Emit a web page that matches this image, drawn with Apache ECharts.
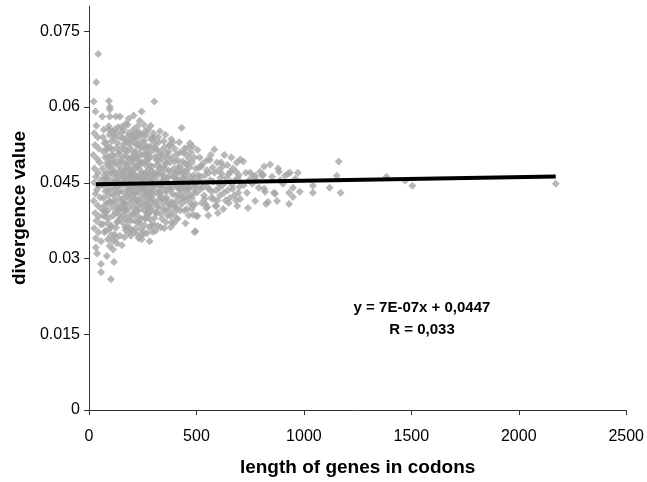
<!DOCTYPE html>
<html>
<head>
<meta charset="utf-8">
<script src="https://cdn.jsdelivr.net/npm/echarts@6/dist/echarts.min.js"></script>
<style>
html,body{margin:0;padding:0;background:#fff;}
#chart{width:647px;height:482px;}
</style>
</head>
<body>
<div id="chart"></div>
<script>
// [length of gene in codons, divergence value]
var genes = [
[22,0.0611],[34,0.0649],[43,0.0705],[30,0.0591],[34,0.0563],[25,0.0548],[40,0.0540],[28,0.0525],[45,0.0518],[20,0.0505],
[38,0.0497],[50,0.0490],[26,0.0478],[42,0.0470],[32,0.0462],[55,0.0455],[24,0.0450],[48,0.0443],[36,0.0436],[30,0.0428],
[52,0.0421],[22,0.0414],[40,0.0405],[58,0.0398],[28,0.0390],[46,0.0383],[34,0.0375],[54,0.0368],[24,0.0360],[44,0.0352],
[32,0.0340],[56,0.0334],[32,0.0322],[56,0.0289],[56,0.0273],[38,0.0310],
[62,0.0581],[69,0.0555],[93,0.0612],[97,0.0600],[97,0.0595],[97,0.0581],[125,0.0581],[144,0.0581],[93,0.0555],[153,0.0561],
[171,0.0567],[185,0.0577],[208,0.0583],[245,0.0591],[236,0.0573],[304,0.0611],[287,0.0563],[264,0.0553],[431,0.0559],
[83,0.0305],[116,0.0293],[102,0.0259],[153,0.0326],[231,0.0340],[282,0.0334],[208,0.0352],[171,0.0356],[380,0.0362],[449,0.0370],
[412,0.0378],[495,0.0354],[500,0.0384],[546,0.0400],[301,0.0368],[333,0.0362],
[65,0.0540],[72,0.0528],[80,0.0515],[88,0.0502],[95,0.0490],[105,0.0478],[112,0.0466],[120,0.0454],[128,0.0442],[135,0.0430],
[142,0.0418],[148,0.0405],[70,0.0395],[78,0.0382],[86,0.0370],[94,0.0358],[102,0.0346],[110,0.0335],[118,0.0348],[126,0.0361],
[134,0.0374],[140,0.0387],[66,0.0445],[74,0.0458],[82,0.0470],[90,0.0483],[98,0.0520],[106,0.0532],[114,0.0545],[122,0.0556],
[130,0.0520],[138,0.0508],[146,0.0496],[68,0.0420],[76,0.0433],[84,0.0410],[92,0.0425],[100,0.0438],[108,0.0402],[116,0.0415],
[124,0.0392],[132,0.0400],[140,0.0452],[148,0.0465],[64,0.0368],[72,0.0352],[88,0.0338],[96,0.0325],[112,0.0318],[130,0.0330],
[144,0.0345],[85,0.0448],[115,0.0488],[125,0.0470],[135,0.0462],[75,0.0500],[145,0.0540],[105,0.0505],[95,0.0412],[120,0.0425],
[80,0.0460],
[63,0.0478],[67,0.0512],[71,0.0465],[73,0.0405],[77,0.0448],[79,0.0530],[81,0.0392],[83,0.0488],[87,0.0435],[89,0.0520],
[91,0.0458],[94,0.0380],[96,0.0545],[99,0.0470],[101,0.0412],[103,0.0495],[104,0.0365],[107,0.0450],[109,0.0515],[111,0.0428],
[113,0.0385],[117,0.0472],[119,0.0502],[121,0.0438],[123,0.0410],[127,0.0490],[129,0.0455],[131,0.0372],[133,0.0528],[136,0.0445],
[137,0.0395],[139,0.0482],[141,0.0512],[143,0.0432],[147,0.0380],[149,0.0475],[66,0.0385],[86,0.0395],[118,0.0538],[128,0.0548],
[108,0.0552],[92,0.0562],[136,0.0560],[78,0.0355],[102,0.0362],[124,0.0340],
[152,0.0550],[158,0.0538],[163,0.0526],[169,0.0514],[174,0.0502],[180,0.0490],[186,0.0478],[191,0.0466],[197,0.0454],[203,0.0442],
[208,0.0430],[214,0.0418],[219,0.0406],[225,0.0394],[231,0.0382],[236,0.0370],[242,0.0358],[248,0.0346],
[155,0.0372],[160,0.0385],[166,0.0398],[171,0.0410],[177,0.0423],[183,0.0436],[188,0.0449],[194,0.0461],[199,0.0474],[205,0.0487],
[211,0.0500],[216,0.0512],[222,0.0525],[228,0.0538],[233,0.0550],
[252,0.0545],[258,0.0533],[264,0.0521],[270,0.0509],[276,0.0497],[282,0.0485],[288,0.0473],[294,0.0461],[298,0.0449],[255,0.0437],
[261,0.0425],[267,0.0413],[273,0.0401],[279,0.0389],[285,0.0377],[291,0.0365],[297,0.0353],
[253,0.0352],[259,0.0366],[265,0.0379],[271,0.0392],[277,0.0405],[283,0.0418],[289,0.0431],[295,0.0444],[256,0.0457],[262,0.0470],
[268,0.0483],[274,0.0496],[280,0.0509],[286,0.0522],[292,0.0535],[299,0.0548],
[157,0.0460],[163,0.0448],[168,0.0473],[175,0.0455],[181,0.0441],[187,0.0430],[193,0.0418],[198,0.0500],[204,0.0512],[210,0.0468],
[215,0.0455],[221,0.0440],[226,0.0462],[232,0.0478],[238,0.0490],[243,0.0452],[249,0.0438],[154,0.0418],[161,0.0406],[167,0.0395],
[173,0.0380],[178,0.0364],[184,0.0350],[190,0.0360],[196,0.0375],[202,0.0388],[207,0.0400],[213,0.0375],[218,0.0360],[224,0.0348],
[230,0.0415],[235,0.0428],[241,0.0440],[246,0.0505],[151,0.0490],[159,0.0502],[165,0.0476],[176,0.0530],[182,0.0542],[189,0.0520],
[195,0.0535],[200,0.0545],[206,0.0555],[212,0.0540],[217,0.0528],[223,0.0482],[229,0.0494],[234,0.0508],[240,0.0520],[247,0.0470],
[262,0.0445],[278,0.0460],[290,0.0450],[266,0.0465],[284,0.0438],[272,0.0428],[257,0.0395],[287,0.0400],[296,0.0410],[260,0.0505],
[275,0.0555],
[151,0.0445],[153,0.0398],[156,0.0520],[158,0.0470],[160,0.0432],[162,0.0555],[164,0.0410],[166,0.0488],[168,0.0362],[170,0.0458],
[172,0.0535],[174,0.0425],[176,0.0395],[178,0.0482],[179,0.0512],[181,0.0375],[183,0.0465],[185,0.0548],[187,0.0402],[189,0.0445],
[191,0.0498],[192,0.0385],[194,0.0528],[196,0.0438],[198,0.0412],[200,0.0470],[201,0.0356],[203,0.0495],[205,0.0425],[207,0.0540],
[209,0.0448],[210,0.0388],[212,0.0505],[214,0.0478],[216,0.0430],[218,0.0395],[220,0.0550],[221,0.0462],[223,0.0415],[225,0.0500],
[227,0.0372],[229,0.0445],[231,0.0525],[232,0.0435],[234,0.0398],[236,0.0485],[238,0.0458],[239,0.0545],[241,0.0408],[243,0.0378],
[245,0.0468],[247,0.0530],[249,0.0420],[251,0.0490],[253,0.0458],[254,0.0405],[256,0.0518],[258,0.0442],[260,0.0380],[262,0.0492],
[264,0.0430],[266,0.0545],[268,0.0408],[269,0.0468],[271,0.0385],[273,0.0522],[275,0.0448],[277,0.0432],[279,0.0478],[281,0.0362],
[283,0.0502],[285,0.0455],[287,0.0420],[289,0.0538],[291,0.0395],[293,0.0482],[295,0.0465],[297,0.0425],[299,0.0515],[165,0.0342],
[195,0.0345],[245,0.0338],[270,0.0350],[180,0.0565],[225,0.0562],[255,0.0565],
[302,0.0540],[308,0.0528],[314,0.0516],[320,0.0504],[326,0.0492],[332,0.0480],[338,0.0468],[344,0.0456],[350,0.0444],[356,0.0432],
[362,0.0420],[368,0.0408],[374,0.0396],[380,0.0384],[386,0.0372],
[305,0.0380],[311,0.0392],[317,0.0404],[323,0.0416],[329,0.0428],[335,0.0440],[341,0.0452],[347,0.0464],[353,0.0476],[359,0.0488],
[365,0.0500],[371,0.0512],[377,0.0524],[383,0.0536],
[390,0.0530],[398,0.0518],[406,0.0506],[414,0.0494],[422,0.0482],[430,0.0470],[438,0.0458],[446,0.0446],[454,0.0434],[462,0.0422],
[470,0.0410],[478,0.0398],[486,0.0386],
[394,0.0390],[402,0.0402],[410,0.0414],[418,0.0426],[426,0.0438],[434,0.0450],[442,0.0462],[450,0.0474],[458,0.0486],[466,0.0498],
[474,0.0510],[482,0.0522],[490,0.0500],
[310,0.0455],[318,0.0470],[327,0.0445],[336,0.0420],[345,0.0410],[354,0.0395],[363,0.0460],[372,0.0448],[381,0.0436],[392,0.0462],
[401,0.0448],[412,0.0440],[420,0.0455],[428,0.0420],[440,0.0430],[448,0.0415],[460,0.0450],[468,0.0440],[476,0.0460],[488,0.0430],
[496,0.0445],[306,0.0500],[315,0.0485],[324,0.0530],[333,0.0512],[342,0.0498],[351,0.0520],[360,0.0508],[369,0.0475],[378,0.0490],
[396,0.0478],[404,0.0470],[416,0.0480],[436,0.0492],[452,0.0505],[320,0.0365],[340,0.0378],[358,0.0372],[375,0.0405],[388,0.0412],
[408,0.0380],[424,0.0395],[444,0.0395],[464,0.0385],[480,0.0420],[494,0.0408],[330,0.0552],[355,0.0545],[445,0.0518],[470,0.0528],
[301,0.0435],[303,0.0470],[307,0.0412],[309,0.0520],[312,0.0445],[314,0.0390],[316,0.0495],[319,0.0430],[321,0.0465],[322,0.0540],
[325,0.0402],[328,0.0478],[331,0.0432],[334,0.0388],[337,0.0505],[339,0.0448],[343,0.0420],[346,0.0482],[348,0.0532],[349,0.0398],
[352,0.0455],[357,0.0418],[361,0.0490],[364,0.0435],[366,0.0385],[370,0.0462],[373,0.0525],[376,0.0440],[379,0.0410],[382,0.0472],
[385,0.0500],[387,0.0428],[391,0.0445],[393,0.0405],[397,0.0460],[400,0.0492],[403,0.0425],[407,0.0458],[411,0.0398],[415,0.0470],
[419,0.0438],[423,0.0510],[427,0.0452],[431,0.0408],[435,0.0475],[439,0.0442],[443,0.0420],[447,0.0488],[451,0.0455],[455,0.0398],
[459,0.0468],[463,0.0438],[467,0.0480],[471,0.0425],[475,0.0452],[479,0.0490],[483,0.0405],[487,0.0465],[492,0.0440],[497,0.0478],
[310,0.0355],[350,0.0360],[395,0.0370],[420,0.0530],[440,0.0510],[460,0.0520],[485,0.0455],
[505,0.0515],[512,0.0480],[520,0.0462],[528,0.0440],[535,0.0425],[542,0.0408],[550,0.0495],[558,0.0470],[565,0.0455],[572,0.0432],
[580,0.0418],[588,0.0404],[596,0.0490],[604,0.0475],[612,0.0460],[620,0.0445],[628,0.0430],[636,0.0415],[644,0.0485],[652,0.0468],
[660,0.0452],[668,0.0438],[676,0.0425],[684,0.0472],[692,0.0458],[700,0.0442],[583,0.0516],[662,0.0500],[704,0.0496],[718,0.0492],
[551,0.0402],[593,0.0404],[505,0.0384],[491,0.0352],[625,0.0398],[690,0.0404],[515,0.0500],[530,0.0488],[545,0.0450],[560,0.0437],
[575,0.0480],[600,0.0450],[615,0.0490],[640,0.0460],[655,0.0420],[670,0.0478],[695,0.0430],[525,0.0410],[610,0.0425],[505,0.0455],
[540,0.0465],
[502,0.0430],[508,0.0465],[518,0.0438],[522,0.0482],[532,0.0450],[538,0.0418],[548,0.0475],[553,0.0440],[562,0.0495],[568,0.0420],
[578,0.0452],[585,0.0470],[592,0.0435],[598,0.0415],[606,0.0440],[618,0.0468],[622,0.0482],[633,0.0450],[646,0.0435],[658,0.0472],
[665,0.0445],[680,0.0455],[688,0.0490],[698,0.0465],[566,0.0505],[630,0.0505],[555,0.0385],[600,0.0390],[650,0.0410],[685,0.0415],
[704,0.0418],[730,0.0470],[745,0.0455],[750,0.0470],[764,0.0462],[773,0.0464],[773,0.0414],[790,0.0440],[796,0.0472],[806,0.0464],
[810,0.0466],[815,0.0482],[815,0.0438],[819,0.0432],[824,0.0408],[833,0.0412],[843,0.0486],[852,0.0462],[861,0.0430],[866,0.0428],
[875,0.0414],[880,0.0478],[884,0.0472],[903,0.0448],[912,0.0464],[926,0.0468],[931,0.0430],[931,0.0408],[935,0.0470],[949,0.0440],
[949,0.0422],[972,0.0470],[981,0.0432],[760,0.0448],[735,0.0430],[780,0.0455],[720,0.0445],[740,0.0400],[890,0.0455],[960,0.0458],
[1042,0.0444],[1042,0.0430],[1120,0.0440],[1162,0.0492],[1153,0.0464],[1171,0.0430],[1384,0.0462],[1472,0.0454],[1505,0.0444],[2172,0.0448]
];

// linear trend line endpoints (y = 7E-07x + 0,0447)
var trendLine = [[32,0.04472],[2172,0.04622]];

var xTicks = [0,500,1000,1500,2000,2500];
var yTicks = [0,0.015,0.03,0.045,0.06,0.075];
var equationText = 'y = 7E-07x + 0,0447';
var rText = 'R = 0,033';

var chart = echarts.init(document.getElementById('chart'), null, {renderer:'canvas'});
var FONT = 'Liberation Sans, Arial, sans-serif';
var axisColor = '#333333';
chart.setOption({
  animation:false,
  backgroundColor:'#ffffff',
  grid:{left:89,right:18,top:6,bottom:71,containLabel:false},
  xAxis:{
    type:'value',min:0,max:2500,interval:500,
    name:'length of genes in codons',nameLocation:'middle',nameGap:48,
    nameTextStyle:{fontFamily:FONT,fontWeight:'bold',fontSize:19,color:'#000'},
    axisLine:{show:true,onZero:false,lineStyle:{color:axisColor,width:1}},
    axisTick:{show:true,length:5,lineStyle:{color:axisColor}},
    axisLabel:{fontFamily:FONT,fontSize:16,color:'#000',margin:19,
      formatter:function(v){return String(v);}},
    splitLine:{show:false}
  },
  yAxis:{
    type:'value',min:0,max:0.08,interval:0.015,
    name:'divergence value',nameLocation:'middle',nameGap:58,nameRotate:90,
    nameTextStyle:{fontFamily:FONT,fontWeight:'bold',fontSize:19,color:'#000'},
    axisLine:{show:true,onZero:false,lineStyle:{color:axisColor,width:1}},
    axisTick:{show:true,length:5,lineStyle:{color:axisColor},customValues:yTicks},
    axisLabel:{fontFamily:FONT,fontSize:16,color:'#000',margin:9,customValues:yTicks,
      formatter:function(v){return v>0.077?'':String(+v.toFixed(4));}},
    splitLine:{show:false}
  },
  graphic:[
    {type:'text',id:'eq',x:422,y:308,z:100,
     style:{text:equationText,fontFamily:FONT,fontWeight:'bold',fontSize:15,fill:'#000',align:'center',verticalAlign:'middle'}},
    {type:'text',id:'r',x:422,y:330,z:100,
     style:{text:rText,fontFamily:FONT,fontWeight:'bold',fontSize:15,fill:'#000',align:'center',verticalAlign:'middle'}}
  ],
  series:[
    {type:'scatter',data:genes,symbol:'diamond',symbolSize:8,
     itemStyle:{color:'#a6a6a6'},z:2,silent:true},
    {type:'line',data:trendLine,symbol:'none',
     lineStyle:{color:'#000',width:4},z:3,silent:true}
  ]
});
</script>
</body>
</html>
